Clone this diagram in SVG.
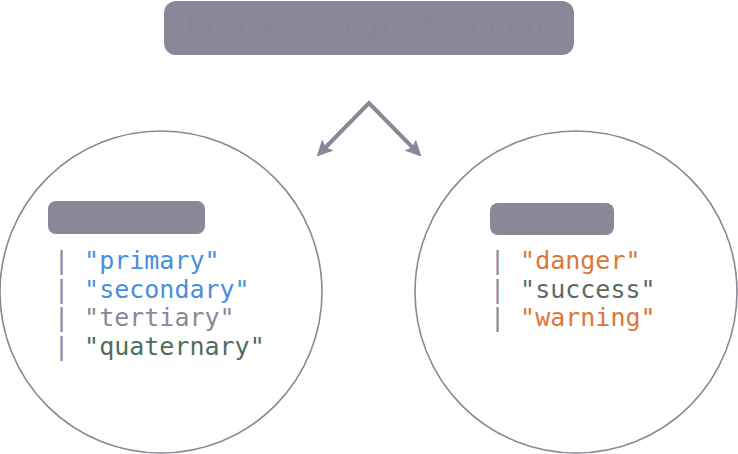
<svg xmlns="http://www.w3.org/2000/svg" width="738" height="454" viewBox="0 0 738 454">
<style>
.bar{fill:#8a8898}
.ring{fill:none;stroke:#8a8898;stroke-width:1.6}
.code{font-family:"DejaVu Sans Mono","Liberation Mono",monospace;font-size:25px}
.pipe{fill:#8a8898}
.blue{fill:#4a8fdb}
.gray{fill:#8a8898}
.green{fill:#4f6e59}
.orange{fill:#d9783a}
.sage{fill:#5a6c61}
.conn{fill:none;stroke:#8a8898;stroke-width:4;stroke-linejoin:miter}
</style>
<defs>
<marker id="ah" viewBox="0 0 10 10" refX="7" refY="5" markerWidth="4" markerHeight="4" orient="auto-start-reverse" markerUnits="strokeWidth">
<path d="M0,0 L10,5 L0,10 L2,5 Z" fill="#8a8898"/>
</marker>
</defs>
<rect width="738" height="454" fill="#ffffff"/>
<g id="root">
<rect class="bar" x="164" y="1" width="410" height="54" rx="12"/>
<text x="185" y="39" font-family="Open Sans, Liberation Sans, sans-serif" font-weight="300" font-size="36" fill="#878595" textLength="367" lengthAdjust="spacingAndGlyphs">background color</text>
</g>
<g id="connectors">
<polyline class="conn" points="320,153 369,103 418,153" marker-start="url(#ah)" marker-end="url(#ah)"/>
</g>
<g id="left">
<circle class="ring" cx="161" cy="292" r="161"/>
<rect class="bar" x="48" y="201" width="157" height="33" rx="8"/>
<text class="code" x="54" y="269"><tspan class="pipe">| </tspan><tspan class="blue">"primary"</tspan></text>
<text class="code" x="54" y="297.5"><tspan class="pipe">| </tspan><tspan class="blue">"secondary"</tspan></text>
<text class="code" x="54" y="326"><tspan class="pipe">| </tspan><tspan class="gray">"tertiary"</tspan></text>
<text class="code" x="54" y="354.5"><tspan class="pipe">| </tspan><tspan class="green">"quaternary"</tspan></text>
</g>
<g id="right">
<circle class="ring" cx="576" cy="292" r="161"/>
<rect class="bar" x="490" y="203" width="124" height="32" rx="8"/>
<text class="code" x="490" y="269"><tspan class="pipe">| </tspan><tspan class="orange">"danger"</tspan></text>
<text class="code" x="490" y="297.5"><tspan class="pipe">| </tspan><tspan class="sage">"success"</tspan></text>
<text class="code" x="490" y="326"><tspan class="pipe">| </tspan><tspan class="orange">"warning"</tspan></text>
</g>
</svg>
